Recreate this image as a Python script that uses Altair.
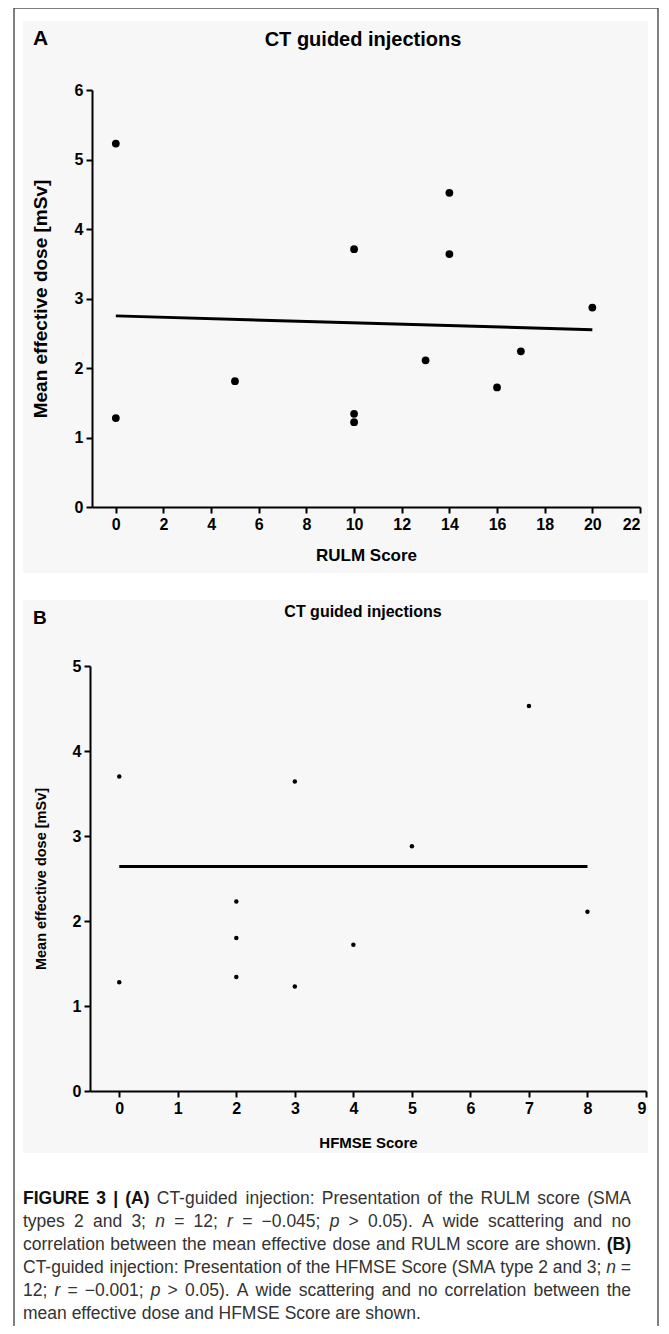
import altair as alt
import pandas as pd

# ---------------- data ----------------
rulm_score = [0, 0, 5, 10, 10, 10, 13, 14, 14, 16, 17, 20]
dose_a = [5.23, 1.28, 1.81, 3.71, 1.34, 1.22, 2.11, 4.52, 3.64, 1.72, 2.24, 2.87]
fit_a_x = [0, 20]
fit_a_y = [2.75, 2.55]

hfmse_score = [0, 0, 2, 2, 2, 3, 3, 4, 5, 7, 8]
dose_b = [3.70, 1.28, 2.23, 1.80, 1.34, 3.64, 1.23, 1.72, 2.88, 4.53, 2.11]
fit_b_x = [0, 8]
fit_b_y = [2.64, 2.64]

x_ticks_a = [0, 2, 4, 6, 8, 10, 12, 14, 16, 18, 20, 22]
y_ticks_a = [0, 1, 2, 3, 4, 5, 6]
x_ticks_b = [0, 1, 2, 3, 4, 5, 6, 7, 8, 9]
y_ticks_b = [0, 1, 2, 3, 4, 5]

panel_title = "CT guided injections"
x_title_a = "RULM Score"
x_title_b = "HFMSE Score"
y_title = "Mean effective dose [mSv]"

# caption (**bold**, _italic_ words)
caption_lines = [
    "**FIGURE** **3** **|** **(A)** CT-guided injection: Presentation of the RULM score (SMA",
    "types 2 and 3; _n_ = 12; _r_ = \u22120.045; _p_ > 0.05). A wide scattering and no",
    "correlation between the mean effective dose and RULM score are shown. **(B)**",
    "CT-guided injection: Presentation of the HFMSE Score (SMA type 2 and 3; _n_ =",
    "12; _r_ = \u22120.001; _p_ > 0.05). A wide scattering and no correlation between the",
    "mean effective dose and HFMSE Score are shown.",
]

# Arial / Liberation Sans advance widths (1/1000 em)
REG_W = {' ': 278, '(': 333, ')': 333, ',': 278, '-': 333, '.': 278, ':': 278, ';': 278,
         '<': 584, '=': 584, '>': 584, '|': 260, '\u2212': 584,
         'A': 667, 'B': 667, 'C': 722, 'D': 722, 'E': 667, 'F': 611, 'G': 778, 'H': 722,
         'I': 278, 'J': 500, 'K': 667, 'L': 556, 'M': 833, 'N': 722, 'O': 778, 'P': 667,
         'Q': 778, 'R': 722, 'S': 667, 'T': 611, 'U': 722, 'V': 667, 'W': 944, 'X': 667,
         'Y': 667, 'Z': 611, 'a': 556, 'b': 556, 'c': 500, 'd': 556, 'e': 556, 'f': 278,
         'g': 556, 'h': 556, 'i': 222, 'j': 222, 'k': 500, 'l': 222, 'm': 833, 'n': 556,
         'o': 556, 'p': 556, 'q': 556, 'r': 333, 's': 500, 't': 278, 'u': 556, 'v': 500,
         'w': 722, 'x': 500, 'y': 500, 'z': 500}
for d in "0123456789":
    REG_W[d] = 556
BOLD_W = {' ': 278, '(': 333, ')': 333, '|': 280, 'A': 722, 'B': 722, 'E': 667, 'F': 611,
          'G': 778, 'I': 278, 'R': 722, 'U': 722}
for d in "0123456789":
    BOLD_W[d] = 556

df_a = pd.DataFrame({"rulm": rulm_score, "dose": dose_a})
df_fit_a = pd.DataFrame({"rulm": fit_a_x, "dose": fit_a_y})
df_b = pd.DataFrame({"hfmse": hfmse_score, "doseb": dose_b})
df_fit_b = pd.DataFrame({"hfmse": fit_b_x, "doseb": fit_b_y})
one = pd.DataFrame({"k": [0]})

# ---------------- layout ----------------
W, H = 653, 1318
FONT = "Liberation Sans"


def box(x, x2, y, y2, fill="none", stroke=None, sw=0):
    kw = dict(fill=fill)
    if stroke:
        kw.update(stroke=stroke, strokeWidth=sw)
    return alt.Chart(one).mark_rect(**kw).encode(
        x=alt.value(x), x2=alt.value(x2), y=alt.value(y), y2=alt.value(y2)
    )


def label(text, x, y, size, weight="normal", align="left", font=FONT, color="black"):
    return alt.Chart(one).mark_text(
        text=text, align=align, baseline="middle", fontSize=size,
        fontWeight=weight, font=font, color=color
    ).encode(x=alt.value(x), y=alt.value(y))


axis_common = dict(
    grid=False, domainColor="black", domainWidth=2, tickColor="black",
    tickWidth=2, tickSize=6, labelFont=FONT, labelFontWeight="bold",
    labelColor="black", titleFont=FONT, titleFontWeight="bold",
    titleColor="black", labelPadding=3, zindex=1,
)

# Panel A
xa_scale = alt.Scale(domain=[-1, 22], range=[84, 632], nice=False, zero=False)
ya_scale = alt.Scale(domain=[0, 6], range=[499, 82], nice=False, zero=False)
xa_axis = alt.Axis(orient="bottom", offset=499 - H, values=x_ticks_a, title=x_title_a,
                   titleFontSize=17, labelFontSize=16, titlePadding=15, **axis_common)
ya_axis = alt.Axis(orient="left", offset=-84, values=y_ticks_a, title=y_title,
                   titleFontSize=19, labelFontSize=16, titlePadding=24, **axis_common)

points_a = alt.Chart(df_a).mark_circle(size=60, color="black", opacity=1).encode(
    x=alt.X("rulm:Q", scale=xa_scale, axis=xa_axis),
    y=alt.Y("dose:Q", scale=ya_scale, axis=ya_axis),
)
line_a = alt.Chart(df_fit_a).mark_line(color="black", strokeWidth=3).encode(
    x=alt.X("rulm:Q", scale=xa_scale, axis=xa_axis),
    y=alt.Y("dose:Q", scale=ya_scale, axis=ya_axis),
)
panel_a = alt.layer(points_a, line_a)

# Panel B
xb_scale = alt.Scale(domain=[-0.5, 9], range=[82, 638], nice=False, zero=False)
yb_scale = alt.Scale(domain=[0, 5], range=[1083, 658], nice=False, zero=False)
xb_axis = alt.Axis(orient="bottom", offset=1083 - H, values=x_ticks_b, title=x_title_b,
                   titleFontSize=15, labelFontSize=16, titlePadding=19, **axis_common)
yb_axis = alt.Axis(orient="left", offset=-82, values=y_ticks_b, title=y_title,
                   titleFontSize=14.5, labelFontSize=16, titlePadding=24, **axis_common)

points_b = alt.Chart(df_b).mark_circle(size=20, color="black", opacity=1).encode(
    x=alt.X("hfmse:Q", scale=xb_scale, axis=xb_axis),
    y=alt.Y("doseb:Q", scale=yb_scale, axis=yb_axis),
)
line_b = alt.Chart(df_fit_b).mark_line(color="black", strokeWidth=3).encode(
    x=alt.X("hfmse:Q", scale=xb_scale, axis=xb_axis),
    y=alt.Y("doseb:Q", scale=yb_scale, axis=yb_axis),
)
panel_b = alt.layer(points_b, line_b)

# decorations
bg_a = box(15, 640, 13, 565, fill="#f7f7f7")
bg_b = box(15, 640, 592, 1145, fill="#f7f7f7")
border = box(6, 650, 0, 1400, fill="none", stroke="#555555", sw=1.5)

texts = [
    label("A", 25, 31, 21, weight="bold", align="left"),
    label(panel_title, 355, 32, 20, weight="bold", align="center"),
    label("B", 25, 610, 19, weight="bold", align="left"),
    label(panel_title, 355, 604, 16, weight="bold", align="center"),
]

# ---------------- justified caption ----------------
CAP_SIZE = 17.5
CAP_LEFT, CAP_RIGHT = 15, 623
cap_y = [1191, 1214, 1237, 1260, 1283, 1306]


def word_width(w, style):
    table = BOLD_W if style == "bold" else REG_W
    return sum(table.get(ch, 556) for ch in w) * CAP_SIZE / 1000.0


rows = []
for li, line in enumerate(caption_lines):
    words = []
    for tok in line.split(" "):
        if tok.startswith("**") and tok.endswith("**") and len(tok) > 4:
            words.append((tok[2:-2], "bold"))
        elif tok.startswith("_") and tok.endswith("_") and len(tok) > 2:
            words.append((tok[1:-1], "italic"))
        else:
            words.append((tok, "normal"))
    widths = [word_width(w, s) for w, s in words]
    space = REG_W[" "] * CAP_SIZE / 1000.0
    natural = sum(widths) + space * (len(words) - 1)
    if li < len(caption_lines) - 1 and len(words) > 1:
        space += (CAP_RIGHT - CAP_LEFT - natural) / (len(words) - 1)
    xpos = CAP_LEFT
    for (w, s), wd in zip(words, widths):
        rows.append({"word": w, "style": s, "px": xpos, "py": cap_y[li]})
        xpos += wd + space
cap_df = pd.DataFrame(rows)


def caption_layer(style, weight, fstyle, color):
    return alt.Chart(cap_df).transform_filter(
        alt.datum.style == style
    ).mark_text(
        align="left", baseline="middle", fontSize=CAP_SIZE, font=FONT,
        fontWeight=weight, fontStyle=fstyle, color=color,
    ).encode(
        x=alt.X("px:Q", scale=None, axis=None),
        y=alt.Y("py:Q", scale=None, axis=None),
        text="word:N",
    )


cap_layers = [
    caption_layer("normal", "normal", "normal", "#333333"),
    caption_layer("italic", "normal", "italic", "#333333"),
    caption_layer("bold", "bold", "normal", "#111111"),
]

chart = alt.layer(bg_a, bg_b, border, panel_a, panel_b, *texts, *cap_layers).resolve_scale(
    x="independent", y="independent"
).resolve_axis(
    x="independent", y="independent"
).properties(
    width=W, height=H, padding=0, autosize=alt.AutoSizeParams(type="none"),
    background="white",
).configure_view(stroke=None)

chart.save("out.html", embed_options={"renderer": "svg", "actions": False})
